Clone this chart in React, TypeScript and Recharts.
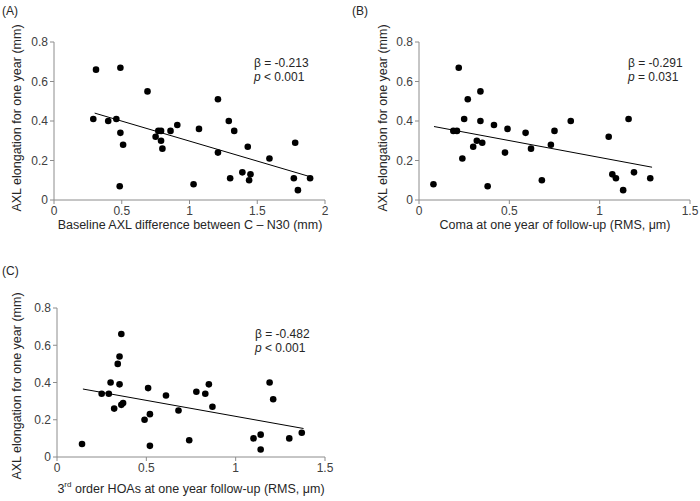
import React from "react"
import { ScatterChart, Scatter, XAxis, YAxis } from "recharts"

// Panel A: baseline AXL difference vs AXL elongation
const aX = [0.29, 0.31, 0.4, 0.46, 0.49, 0.49, 0.51, 0.485, 0.69, 0.75, 0.77, 0.79, 0.79, 0.8, 0.86, 0.91, 1.07, 1.03, 1.21, 1.21, 1.29, 1.33, 1.3, 1.43, 1.39, 1.45, 1.44, 1.59, 1.78, 1.77, 1.8, 1.89]
const aY = [0.41, 0.66, 0.4, 0.41, 0.67, 0.34, 0.28, 0.07, 0.55, 0.32, 0.35, 0.35, 0.3, 0.26, 0.35, 0.38, 0.36, 0.08, 0.51, 0.24, 0.4, 0.35, 0.11, 0.27, 0.14, 0.13, 0.1, 0.21, 0.29, 0.11, 0.05, 0.11]
const aFitX = [0.3, 1.89]
const aFitY = [0.44, 0.118]

// Panel B: coma vs AXL elongation
const bX = [0.08, 0.22, 0.19, 0.21, 0.24, 0.25, 0.27, 0.3, 0.32, 0.34, 0.34, 0.35, 0.38, 0.415, 0.476, 0.49, 0.59, 0.62, 0.68, 0.73, 0.75, 0.84, 1.05, 1.07, 1.09, 1.13, 1.16, 1.19, 1.28]
const bY = [0.08, 0.67, 0.35, 0.35, 0.21, 0.41, 0.51, 0.27, 0.3, 0.55, 0.4, 0.29, 0.07, 0.38, 0.24, 0.36, 0.34, 0.26, 0.1, 0.28, 0.35, 0.4, 0.32, 0.13, 0.11, 0.05, 0.41, 0.14, 0.11]
const bFitX = [0.083, 1.29]
const bFitY = [0.372, 0.166]

// Panel C: 3rd order HOAs vs AXL elongation
const cX = [0.14, 0.25, 0.29, 0.3, 0.32, 0.34, 0.35, 0.35, 0.36, 0.36, 0.37, 0.49, 0.51, 0.52, 0.52, 0.61, 0.68, 0.74, 0.78, 0.83, 0.85, 0.87, 1.1, 1.14, 1.14, 1.19, 1.21, 1.3, 1.37]
const cY = [0.07, 0.34, 0.34, 0.4, 0.26, 0.5, 0.54, 0.39, 0.66, 0.28, 0.29, 0.2, 0.37, 0.23, 0.06, 0.33, 0.25, 0.09, 0.35, 0.34, 0.39, 0.27, 0.1, 0.12, 0.04, 0.4, 0.31, 0.1, 0.13]
const cFitX = [0.145, 1.38]
const cFitY = [0.365, 0.153]

const yTicks = [0, 0.2, 0.4, 0.6, 0.8]
const xTicksA = [0, 0.5, 1, 1.5, 2]
const xTicksBC = [0, 0.5, 1, 1.5]

const font = "'Liberation Sans', Arial, sans-serif"
const axisColor = "#8c8c8c"
const tickStyle = { fontSize: 12, fill: "#404040", fontFamily: font }

const zip = (xs: number[], ys: number[]) => xs.map((x, i) => ({ x, y: ys[i] }))

const Dot = (props: any) => <circle cx={props.cx} cy={props.cy} r={3.3} fill="#000" />

interface PanelProps {
  left: number
  top: number
  width: number
  height: number
  margin: { top: number; right: number; bottom: number; left: number }
  yWidth: number
  xDomain: [number, number]
  xTicks: number[]
  points: { x: number; y: number }[]
  fit: { x: number; y: number }[]
}

function Panel({ left, top, width, height, margin, yWidth, xDomain, xTicks, points, fit }: PanelProps) {
  return (
    <div style={{ position: "absolute", left, top }}>
      <ScatterChart width={width} height={height} margin={margin}>
        <XAxis
          type="number"
          dataKey="x"
          domain={xDomain}
          ticks={xTicks}
          tick={tickStyle}
          tickSize={4}
          height={20}
          stroke={axisColor}
          allowDataOverflow
        />
        <YAxis
          type="number"
          dataKey="y"
          domain={[0, 0.8]}
          ticks={yTicks}
          tick={tickStyle}
          tickSize={4}
          width={yWidth}
          stroke={axisColor}
        />
        <Scatter data={points} shape={<Dot />} isAnimationActive={false} />
        <Scatter
          data={fit}
          line={{ stroke: "#000", strokeWidth: 1 }}
          shape={() => <g />}
          isAnimationActive={false}
        />
      </ScatterChart>
    </div>
  )
}

const text = (style: React.CSSProperties): React.CSSProperties => ({
  position: "absolute",
  fontFamily: font,
  fontSize: 12,
  color: "#262626",
  whiteSpace: "nowrap",
  ...style,
})

const yLabel = (cx: number, cy: number): React.CSSProperties =>
  text({ left: cx, top: cy, transform: "translate(-50%, -50%) rotate(-90deg)", fontSize: 12.5 })

export default function App() {
  return (
    <div style={{ position: "absolute", left: 0, top: 0, width: 700, height: 501, background: "#fff" }}>
      <Panel
        left={0}
        top={0}
        width={350}
        height={250}
        margin={{ top: 42, right: 25, bottom: 30, left: 0 }}
        yWidth={54}
        xDomain={[0, 2]}
        xTicks={xTicksA}
        points={zip(aX, aY)}
        fit={zip(aFitX, aFitY)}
      />
      <Panel
        left={350}
        top={0}
        width={350}
        height={250}
        margin={{ top: 42, right: 10, bottom: 30, left: 0 }}
        yWidth={69}
        xDomain={[0, 1.5]}
        xTicks={xTicksBC}
        points={zip(bX, bY)}
        fit={zip(bFitX, bFitY)}
      />
      <Panel
        left={0}
        top={250}
        width={350}
        height={251}
        margin={{ top: 58, right: 25, bottom: 24, left: 0 }}
        yWidth={57}
        xDomain={[0, 1.5]}
        xTicks={xTicksBC}
        points={zip(cX, cY)}
        fit={zip(cFitX, cFitY)}
      />

      <div style={text({ left: 2, top: 4 })}>(A)</div>
      <div style={text({ left: 352, top: 4 })}>(B)</div>
      <div style={text({ left: 2, top: 264 })}>(C)</div>

      <div style={yLabel(17, 118)}>AXL elongation for one year (mm)</div>
      <div style={yLabel(383, 118)}>AXL elongation for one year (mm)</div>
      <div style={yLabel(17, 386)}>AXL elongation for one year (mm)</div>

      <div style={text({ left: 190, top: 225, transform: "translate(-50%, -50%)", fontSize: 12.5 })}>
        Baseline AXL difference between C – N30 (mm)
      </div>
      <div style={text({ left: 555, top: 225, transform: "translate(-50%, -50%)", fontSize: 12.5 })}>
        Coma at one year of follow-up (RMS, μm)
      </div>
      <div style={text({ left: 191, top: 488, transform: "translate(-50%, -50%)", fontSize: 12.5 })}>
        3<sup style={{ fontSize: 8 }}>rd</sup> order HOAs at one year follow-up (RMS, μm)
      </div>

      <div style={text({ left: 254, top: 56, lineHeight: "14px" })}>
        β = -0.213
        <br />
        <i>p</i> &lt; 0.001
      </div>
      <div style={text({ left: 628, top: 56, lineHeight: "14px" })}>
        β = -0.291
        <br />
        <i>p</i> = 0.031
      </div>
      <div style={text({ left: 255, top: 327, lineHeight: "14px" })}>
        β = -0.482
        <br />
        <i>p</i> &lt; 0.001
      </div>
    </div>
  )
}
